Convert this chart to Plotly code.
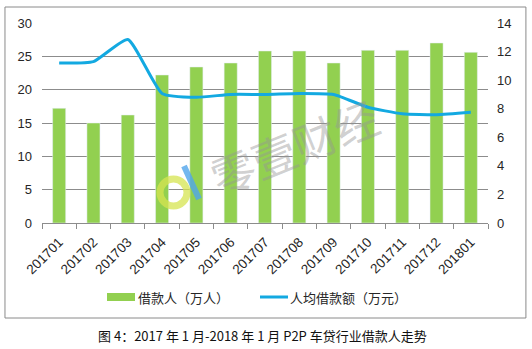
import plotly.graph_objects as go

# Monthly P2P auto-loan borrowers and average loan per borrower
months = ["201701", "201702", "201703", "201704", "201705", "201706", "201707",
          "201708", "201709", "201710", "201711", "201712", "201801"]
borrowers = [17.2, 15.0, 16.2, 22.2, 23.4, 24.0, 25.8, 25.8, 24.0, 25.9, 25.9, 27.0, 25.6]
avg_loan = [11.2, 11.3, 12.85, 9.07, 8.8, 9.0, 9.0, 9.07, 9.0, 8.1, 7.65, 7.58, 7.75]

bar_name = "借款人（万人）"
line_name = "人均借款额（万元）"
caption = "图 4：2017 年 1 月-2018 年 1 月 P2P 车贷行业借款人走势"

GREEN = "#92D050"
BLUE = "#13A9E1"
GRID = "#8C8C8C"
TXT = "#262626"

fig = go.Figure()
fig.add_trace(go.Bar(x=months, y=borrowers, name=bar_name, marker_color=GREEN,
                     yaxis="y", showlegend=False))
fig.add_trace(go.Scatter(x=months, y=avg_loan, name=line_name, mode="lines",
                         line=dict(color=BLUE, width=3, shape="spline", smoothing=0.5),
                         yaxis="y2", showlegend=False))

tick_font = dict(family="Liberation Sans, Arial, sans-serif", size=13, color=TXT)

fig.update_layout(
    width=532, height=349,
    margin=dict(l=42, r=44, t=23, b=126),
    paper_bgcolor="white", plot_bgcolor="white",
    bargap=0.62,
    xaxis=dict(type="category", showline=True, linecolor=GRID, linewidth=1,
               ticks="outside", tickson="boundaries", ticklen=5, tickcolor=GRID,
               tickangle=-45, ticklabelstandoff=5,
               tickfont=dict(family="Liberation Sans, Arial, sans-serif",
                             size=13.5, color=TXT),
               showgrid=False),
    yaxis=dict(range=[0, 30], dtick=5, showgrid=True, gridcolor=GRID, gridwidth=1,
               zeroline=False, showline=False, tickfont=tick_font, ticks="",
               ticklabelstandoff=9),
    yaxis2=dict(range=[0, 14], dtick=2, overlaying="y", side="right",
                showgrid=False, zeroline=False, showline=False, tickfont=tick_font,
                ticks="", ticklabelstandoff=8),
)

# outer frame
fig.add_shape(type="rect", xref="paper", yref="paper",
              x0=-0.083, x1=1.085, y0=-0.475, y1=1.08,
              line=dict(color="#8A8A8A", width=1), fillcolor="rgba(0,0,0,0)",
              layer="below")

# watermark: logo ring, slash and brand name
fig.add_shape(type="circle", xref="paper", yref="paper",
              x0=(160 - 42) / 446, x1=(187 - 42) / 446,
              y0=(223 - 206) / 200, y1=(223 - 179) / 200,
              line=dict(color="rgba(214,228,80,0.75)", width=7))
fig.add_shape(type="line", xref="paper", yref="paper",
              x0=(184 - 42) / 446, y0=(223 - 166) / 200,
              x1=(199 - 42) / 446, y1=(223 - 199) / 200,
              line=dict(color="rgba(80,165,235,0.8)", width=6))
fig.add_annotation(text="零壹财经", xref="paper", yref="paper",
                   x=(294 - 42) / 446, y=(223 - 146) / 200,
                   showarrow=False, textangle=-22,
                   font=dict(family="Noto Sans CJK SC", size=44,
                             color="rgba(150,150,150,0.45)"))

# legend drawn below the axis
leg_y = (223 - 297) / 200
fig.add_shape(type="rect", xref="paper", yref="paper",
              x0=(107 - 42) / 446, x1=(135 - 42) / 446,
              y0=leg_y - 0.02, y1=leg_y + 0.02,
              fillcolor=GREEN, line=dict(width=0))
fig.add_annotation(text=bar_name, xref="paper", yref="paper",
                   x=(136 - 42) / 446, y=leg_y, xanchor="left", yanchor="middle",
                   showarrow=False,
                   font=dict(family="Noto Sans CJK SC", size=13, color=TXT))
fig.add_shape(type="line", xref="paper", yref="paper",
              x0=(260 - 42) / 446, x1=(288 - 42) / 446,
              y0=leg_y, y1=leg_y, line=dict(color=BLUE, width=3))
fig.add_annotation(text=line_name, xref="paper", yref="paper",
                   x=(288 - 42) / 446, y=leg_y, xanchor="left", yanchor="middle",
                   showarrow=False,
                   font=dict(family="Noto Sans CJK SC", size=13, color=TXT))

# caption
fig.add_annotation(text=caption, xref="paper", yref="paper",
                   x=(262 - 42) / 446, y=(223 - 335) / 200,
                   xanchor="center", yanchor="middle", showarrow=False,
                   font=dict(family="Noto Sans CJK SC", size=13, color="#111111"))

fig.write_html("out.html")
